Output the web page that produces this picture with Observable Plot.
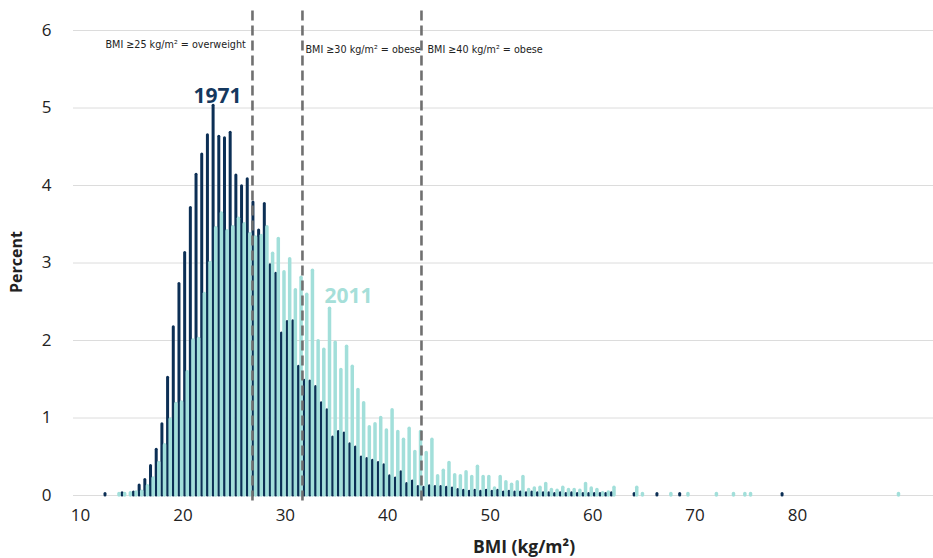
<!DOCTYPE html>
<html><head><meta charset="utf-8">
<script src="https://cdn.jsdelivr.net/npm/d3@7"></script>
<script src="https://cdn.jsdelivr.net/npm/@observablehq/plot@0.6"></script>
<style>
html,body{margin:0;padding:0;background:#fff;}
#chart svg{display:block;}
</style></head><body><div id="chart"></div>
<script>
// Bin layout as drawn against the reference's BMI axis
const binStart = 12.49;
const binStep = 0.5555;

// Percent per bin, 1971 (dark) and 2011 (light); null = no bar
const pct1971 = [
 0.02,null,null,0.03,null,0.04,0.13,0.20,0.38,0.59,
 0.92,1.52,2.17,2.73,3.13,3.71,4.14,4.40,4.65,5.03,
 4.63,4.61,4.68,4.13,3.99,4.08,3.78,3.42,3.76,2.97,
 2.86,2.09,2.24,2.25,1.66,1.48,1.47,1.40,1.19,1.10,
 0.75,0.82,0.80,0.66,0.62,0.49,0.47,0.45,0.42,0.39,
 0.25,0.22,0.30,0.15,0.18,0.11,0.10,0.12,0.11,0.11,
 0.10,0.09,0.07,0.06,0.05,0.06,0.05,0.06,0.05,0.06,
 0.04,0.05,0.04,0.04,0.03,0.04,0.03,0.03,0.03,0.02,
 0.03,0.02,0.03,0.02,0.02,0.02,0.02,0.02,0.02,0.03,
 null,null,null,0.02,null,null,null,0.02,null,null,
 null,0.02,null,null,null,null,null,null,null,null,
 null,null,null,null,null,null,null,null,null,0.02,
 null,null,null,null,null,null,null,null,null,null,
 null,null,null,null,null,null,null,null,null,null
];
const pct2011 = [
 null,null,0.02,0.02,0.03,0.04,0.05,0.12,0.22,0.42,
 0.65,0.98,1.18,1.20,1.59,2.00,2.02,2.60,3.00,3.45,
 3.64,3.41,3.46,3.57,3.50,3.37,3.33,3.35,3.46,3.12,
 3.31,2.88,3.05,2.65,2.81,2.59,2.90,1.99,1.88,2.41,
 1.97,1.62,1.92,1.66,1.36,1.19,0.88,0.92,1.00,0.84,
 1.10,0.82,0.72,0.86,0.56,0.82,0.55,0.72,0.25,0.32,
 0.42,0.26,0.25,0.30,0.24,0.37,0.24,0.24,0.09,0.24,
 0.17,0.14,0.17,0.24,0.07,0.09,0.10,0.15,0.07,0.06,
 0.10,0.07,0.07,0.06,0.15,0.09,0.07,0.03,0.04,0.10,
 null,null,null,0.10,0.02,null,null,null,null,0.02,
 null,null,0.02,null,null,null,null,0.02,null,null,
 0.02,null,0.02,0.02,null,null,null,null,null,null,
 null,null,null,null,null,null,null,null,null,null,
 null,null,null,null,null,null,null,null,null,0.02
];

const xTicks = [10, 20, 30, 40, 50, 60, 70, 80];
const yTicks = [0, 1, 2, 3, 4, 5, 6];

const thresholdPos = [26.79, 31.67, 43.29];
const thresholdText = ["BMI \u226525 kg/m\u00b2 = overweight", "BMI \u226530 kg/m\u00b2 = obese", "BMI \u226540 kg/m\u00b2 = obese"];
const thresholdTextX = [12.44, 31.97, 43.88];
const thresholdTextY = [5.82, 5.76, 5.76];

const seriesNames = ["1971", "2011"];
const seriesLabelX = [23.37, 36.16];
const seriesLabelY = [5.15, 2.57];

const xTitle = "BMI (kg/m\u00b2)";
const yTitle = "Percent";

const DARK = "#0c2f55";
const TEAL = "#a2dfda";

const d1971 = pct1971.map((v, i) => ({x: binStart + i * binStep, v})).filter(d => d.v != null);
const d2011 = pct2011.map((v, i) => ({x: binStart + i * binStep, v})).filter(d => d.v != null);
const thresholds = thresholdPos.map((x, i) => ({x, text: thresholdText[i], tx: thresholdTextX[i], ty: thresholdTextY[i]}));
const seriesLabels = seriesNames.map((s, i) => ({s, x: seriesLabelX[i], y: seriesLabelY[i], c: i === 0 ? "#15385e" : "#a6dfd9"}));

const chart = Plot.plot({
  width: 933, height: 558,
  marginLeft: 73, marginRight: 0, marginTop: 30, marginBottom: 63,
  x: {domain: [9.317, 93.28]},
  y: {domain: [0, 6]},
  style: {fontFamily: "'Open Sans', sans-serif", color: "#222", background: "#fff"},
  marks: [
    Plot.gridY(yTicks, {stroke: "#dcdcdc", strokeOpacity: 1}),
    Plot.axisY(yTicks, {tickSize: 0, tickPadding: 22, fontSize: 17, label: null, tickFormat: d => String(d)}),
    Plot.axisX(xTicks, {tickSize: 0, tickPadding: 13, fontSize: 17, label: null, tickFormat: d => String(d)}),
    Plot.ruleX(d1971, {x: "x", y1: 0, y2: "v", stroke: DARK, strokeWidth: 3, strokeLinecap: "round", dx: -1.0}),
    Plot.ruleX(d2011, {x: "x", y1: 0, y2: "v", stroke: TEAL, strokeWidth: 3.5, strokeLinecap: "round", dx: 1.6}),
    Plot.ruleX(thresholds, {x: "x", y1: -0.07, y2: 6.26, stroke: "#707070", strokeWidth: 2.6, strokeDasharray: "10,5"}),
    Plot.text(thresholds, {x: "tx", y: "ty", text: "text", textAnchor: "start", fontSize: 10.7, fill: "#222",
      fontFamily: "'Liberation Sans Narrow', 'DejaVu Sans Condensed', sans-serif"}),
    Plot.text(seriesLabels, {x: "x", y: "y", text: "s", fill: "c", fontSize: 21, fontWeight: "bold"})
  ]
});
document.getElementById("chart").appendChild(chart);

const svg = d3.select(chart);
svg.append("text")
  .attr("transform", "translate(18,262) rotate(-90)")
  .attr("text-anchor", "middle").attr("dominant-baseline", "middle")
  .style("font-weight", "bold").style("font-size", "16px").attr("fill", "#222")
  .text(yTitle);
svg.append("text")
  .attr("x", 524).attr("y", 548)
  .attr("text-anchor", "middle").attr("dominant-baseline", "middle")
  .style("font-weight", "bold").style("font-size", "17.5px").attr("fill", "#222")
  .text(xTitle);
</script></body></html>
